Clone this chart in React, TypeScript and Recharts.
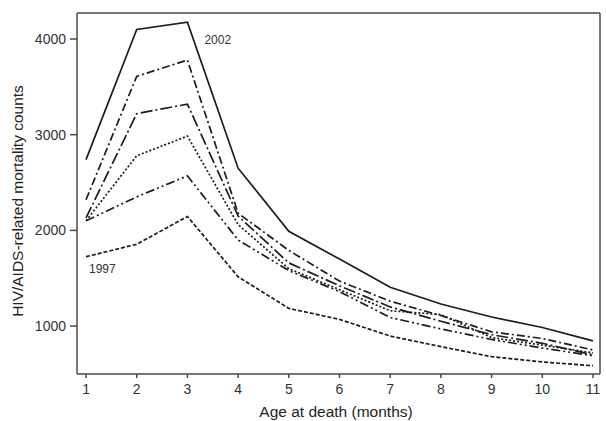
import React from 'react';
import { LineChart, Line, XAxis, YAxis, LabelList, ReferenceLine } from 'recharts';

// ── data ─────────────────────────────────────────────
const months = [1, 2, 3, 4, 5, 6, 7, 8, 9, 10, 11];
const yearLabels = ['1997', '1998', '1999', '2000', '2001', '2002'];

const y1997 = [1725, 1855, 2145, 1515, 1185, 1070, 895, 785, 680, 625, 585];
const y1998 = [2100, 2350, 2570, 1900, 1580, 1360, 1090, 970, 860, 770, 690];
const y1999 = [2100, 2780, 2985, 2060, 1600, 1380, 1160, 1120, 880, 800, 720];
const y2000 = [2130, 3220, 3320, 2150, 1660, 1420, 1200, 1050, 910, 820, 700];
const y2001 = [2320, 3610, 3780, 2180, 1790, 1470, 1260, 1110, 940, 870, 750];
const y2002 = [2740, 4100, 4175, 2650, 1990, 1700, 1405, 1230, 1095, 985, 845];

const yTicks = [1000, 2000, 3000, 4000];
const xDomain = [0.822, 11.138];
const yDomain = [499, 4272];

const rows = months.map((m, i) => ({
  month: m,
  y1997: y1997[i],
  y1998: y1998[i],
  y1999: y1999[i],
  y2000: y2000[i],
  y2001: y2001[i],
  y2002: y2002[i],
}));

const FONT = '"Liberation Sans", Arial, sans-serif';
const INK = '#1c1c1c';
const AXIS = '#4a4a4a';

// line styles per year (oldest → newest)
const seriesStyle: { key: string; dash?: string }[] = [
  { key: 'y1997', dash: '4 2' },
  { key: 'y1998', dash: '9 3 2 3 2 3' },
  { key: 'y1999', dash: '2 2' },
  { key: 'y2000', dash: '12 3 2 3' },
  { key: 'y2001', dash: '8 3 2 3' },
  { key: 'y2002' },
];

// year label beside one point of a series
const yearTag = (text: string, atIndex: number, dx: number, dy: number) =>
  // eslint-disable-next-line @typescript-eslint/no-explicit-any
  (props: any) => {
    if (props.index !== atIndex) return null;
    return (
      <text x={props.x + dx} y={props.y + dy} fontSize={12} fill="#333"
        fontFamily={FONT} dominantBaseline="central">
        {text}
      </text>
    );
  };

const App: React.FC = () => {
  return (
    <div style={{ position: 'absolute', left: 0, top: 0, background: '#fff' }}>
      <LineChart width={606} height={421} data={rows}
        margin={{ top: 13, right: 6, left: 0, bottom: 0 }}>

        <XAxis
          dataKey="month"
          type="number"
          domain={xDomain}
          ticks={months}
          allowDataOverflow
          tickSize={4}
          tickMargin={6}
          tick={{ fill: '#333', fontSize: 14, fontFamily: FONT }}
          tickLine={{ stroke: AXIS, strokeWidth: 1.5 }}
          axisLine={{ stroke: AXIS, strokeWidth: 1.5 }}
          height={47}
          label={{
            content: () => (
              <text x={336} y={417} textAnchor="middle" fontSize={15.5}
                fill="#222" fontFamily={FONT}>Age at death (months)</text>
            ),
          }}
        />

        <YAxis
          type="number"
          domain={yDomain}
          ticks={yTicks}
          allowDataOverflow
          width={77}
          tickSize={7}
          tickMargin={4}
          tick={{ fill: '#333', fontSize: 14, fontFamily: FONT }}
          tickLine={{ stroke: AXIS, strokeWidth: 1.5 }}
          axisLine={{ stroke: AXIS, strokeWidth: 1.5 }}
          label={{
            content: () => (
              <text x={17} y={201} textAnchor="middle" fontSize={15.5}
                fill="#222" fontFamily={FONT} dominantBaseline="central"
                transform="rotate(-90 17 201)">HIV/AIDS-related mortality counts</text>
            ),
          }}
        />

        {/* frame: top and right edges */}
        <ReferenceLine y={yDomain[1]} stroke={AXIS} strokeWidth={1.5} ifOverflow="visible" />
        <ReferenceLine x={xDomain[1]} stroke={AXIS} strokeWidth={1.5} ifOverflow="visible" />

        {seriesStyle.map((s) => (
          <Line
            key={s.key}
            type="linear"
            dataKey={s.key}
            stroke={INK}
            strokeWidth={1.7}
            strokeDasharray={s.dash}
            dot={false}
            activeDot={false}
            isAnimationActive={false}
          >
            {s.key === 'y2002' && (
              <LabelList dataKey={s.key} content={yearTag(yearLabels[5], 2, 17, 18)} />
            )}
            {s.key === 'y1997' && (
              <LabelList dataKey={s.key} content={yearTag(yearLabels[0], 0, 3, 12)} />
            )}
          </Line>
        ))}
      </LineChart>
    </div>
  );
};

export default App;
